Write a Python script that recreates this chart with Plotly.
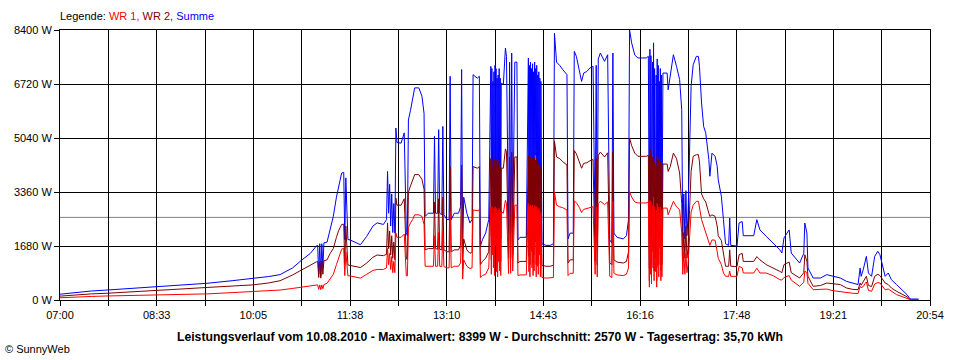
import plotly.graph_objects as go

# minutes after 07:00
minutes = [0, 15, 30, 45, 70, 90, 115, 141, 165, 185, 200, 211, 223, 232, 240, 246, 247, 248, 249, 250,
           251, 252, 253, 256, 259, 262, 265, 267, 270, 272, 273, 274, 276, 278, 283, 288, 294, 300, 304, 310,
           313, 314, 315, 316, 317, 318, 319, 320, 321, 322, 323, 327, 330, 332, 333, 334, 336, 338, 340, 344,
           347, 349, 350, 353, 358, 359, 360, 362, 363, 364, 366, 367, 368, 371, 373, 374, 375, 378, 382, 384,
           385, 386, 387, 390, 393, 395, 396, 400, 402, 403, 405, 408, 411,
           413, 413.5, 414, 414.5, 415, 415.5, 416, 416.5, 417, 417.5, 418, 418.5, 419, 419.5, 420, 420.5, 421,
           421.5, 422, 422.5, 423,
           425, 427, 428, 430, 431, 432, 433, 434, 436, 438, 439, 441, 447,
           449, 449.5, 450, 450.5, 451, 451.5, 452, 452.5, 453, 453.5, 454, 454.5, 455, 455.5, 456, 456.5, 457,
           457.5, 458, 458.5, 459, 459.5, 460, 460.5, 461, 461.5, 462,
           466, 470, 473, 474, 476, 479, 482, 486, 487,
           489, 492, 493, 495, 498, 500, 502, 505, 508, 511, 513, 514, 515, 516, 518, 522, 525, 527, 529, 530,
           531, 534, 540, 543, 545, 546, 548, 551, 554, 562, 564,
           565, 565.5, 566, 566.5, 567, 567.5, 568, 568.5, 569, 569.5, 570, 570.5, 571, 571.5, 572, 572.5, 573,
           573.5, 574, 574.5, 575, 575.5, 576, 576.5, 577,
           578, 582, 583, 585, 588, 591, 594, 596, 597, 598, 599, 600, 601, 602, 605, 607,
           610, 612, 613, 615, 617, 619, 622, 623, 625, 628, 630, 631, 634, 636, 638, 641, 642, 643, 646, 649,
           651, 654, 655, 665, 668, 671, 677, 684, 690, 692, 694, 697, 699, 701, 705, 709, 713, 714, 716, 717,
           722, 729, 735, 741, 748, 754, 760, 765, 767, 768, 770, 772, 773, 775, 778, 781, 784, 786, 789, 791,
           794, 797, 802, 807, 812, 815, 823]

summe = [180, 240, 280, 310, 360, 400, 460, 520, 600, 670, 730, 790, 1000, 1250, 1450, 1690, 1700, 800, 1750, 750,
         1750, 1000, 1780, 1800, 2190, 2600, 3200, 3540, 3950, 3970, 1880, 3800, 1880, 1870, 1800, 1720, 1980, 2300, 2400, 2350,
         2500, 4000, 2700, 3600, 2300, 3300, 2100, 3000, 2080, 5350, 4900, 4880, 5200, 2100, 2000, 5600, 5900, 6230, 6600, 6600,
         6340, 5800, 2600, 2700, 2700, 5100, 2700, 2700, 5300, 2700, 2650, 5400, 2650, 2500, 2500, 6960, 2500, 2700, 2700, 2900,
         7170, 1600, 3200, 2700, 2400, 2500, 7010, 6900, 6960, 1670, 1880, 2080, 2500,
         7270, 2000, 7200, 3500, 6800, 2500, 7100, 1900, 7300, 4200, 7200, 2200, 6900, 1800, 7000, 3000, 7200,
         2300, 6900, 1900, 6750,
         6700, 7840, 7580, 2080, 7400, 2100, 7680, 2290, 7400, 7400, 1870, 1950, 1950,
         7530, 2200, 7300, 1800, 7400, 3900, 7200, 2500, 7350, 1900, 7100, 2300, 7400, 4500, 7200, 1800, 7300,
         2600, 7000, 2000, 7100, 3500, 6900, 1800, 6800, 2200, 1750,
         1700, 1700, 1750, 8300, 7400, 7300, 7165, 7010, 1900,
         2080, 2080, 7736, 7580, 7165, 6800, 7060, 7110, 7218, 7270, 2000, 7300, 1800, 7500, 7684, 7425, 7630, 1870, 1770, 7684,
         2080, 1950, 1900, 2000, 2500, 8399, 8000, 7620, 7530, 7530, 7580,
         1000, 7800, 2000, 7600, 1200, 6000, 7400, 2500, 8000, 1500, 7200, 3800, 2200, 7000, 1000, 7500, 2600,
         7300, 1800, 6800, 4000, 7200, 1500, 7000, 1800,
         7060, 7060, 6540, 6960, 7630, 7270, 6855, 5920, 2000, 3300, 1900, 3400, 2000, 2600, 6650, 7320,
         7580, 7580, 7270, 6130, 5400, 5200, 4370, 3850, 4570, 4470, 4160, 3740, 3225, 2500, 1750, 1700, 2550, 1700, 1700, 1680,
         2400, 2440, 2000, 2000, 2500, 2180, 1980, 1773, 1566, 1460, 1930, 2084, 2180, 1460, 1300, 1150, 1450, 2395, 2080, 995,
         684, 684, 788, 736, 684, 580, 529, 480, 995, 736, 945, 1255, 1358, 840, 736, 1358, 1514, 1410, 1047, 736,
         840, 632, 477, 321, 166, 31, 30]

wr2 = [120, 160, 190, 210, 250, 290, 340, 390, 430, 470, 530, 600, 780, 950, 1080, 1190, 1200, 700, 1200, 680,
       1210, 800, 1220, 1250, 1450, 1600, 1950, 2150, 2350, 2360, 1100, 2300, 1090, 1080, 1050, 1010, 1150, 1330, 1400, 1380,
       1420, 2400, 1600, 2150, 1400, 2000, 1300, 1800, 1250, 3170, 2950, 2950, 3150, 1300, 1250, 3350, 3550, 3750, 3900, 3900,
       3750, 3450, 1560, 1600, 1600, 3050, 1600, 1580, 3150, 1580, 1560, 3200, 1560, 1500, 1500, 4150, 1500, 1560, 1560, 1700,
       4200, 1000, 1900, 1560, 1450, 1500, 4150, 4100, 4150, 1100, 1200, 1300, 1500,
       4400, 1250, 4350, 2100, 4100, 1500, 4300, 1200, 4400, 2500, 4350, 1350, 4150, 1150, 4250, 1800, 4350,
       1400, 4150, 1200, 4100,
       4100, 4700, 4600, 1300, 4450, 1300, 4600, 1400, 4450, 4450, 1150, 1200, 1200,
       4500, 1350, 4400, 1100, 4450, 2350, 4350, 1500, 4400, 1150, 4300, 1400, 4450, 2700, 4350, 1100, 4400,
       1550, 4200, 1200, 4250, 2100, 4150, 1100, 4100, 1350, 1080,
       1050, 1050, 1080, 4950, 4450, 4400, 4300, 4200, 1150,
       1250, 1250, 4650, 4550, 4300, 4100, 4250, 4270, 4330, 4370, 1200, 4400, 1100, 4500, 4600, 4450, 4580, 1150, 1100, 4600,
       1250, 1180, 1150, 1200, 1500, 5040, 4800, 4570, 4470, 4470, 4500,
       600, 4700, 1200, 4550, 700, 3600, 4450, 1500, 4800, 900, 4300, 2300, 1300, 4200, 600, 4500, 1550,
       4400, 1100, 4100, 2400, 4300, 900, 4200, 1100,
       4230, 4230, 4000, 4150, 4570, 4400, 3950, 3000, 1200, 2100, 1300, 2300, 1300, 1600, 4000, 4470,
       4520, 4520, 4300, 3300, 3150, 3050, 2700, 2600, 2650, 2600, 2300, 2000, 1850, 1460, 1050, 1050, 1560, 1050, 1050, 1040,
       1410, 1450, 1200, 1200, 1350, 1250, 1100, 1000, 890, 850, 1100, 1150, 1180, 850, 780, 684, 850, 1410, 1200, 740,
       425, 450, 529, 500, 480, 373, 330, 320, 529, 460, 560, 684, 736, 450, 420, 736, 800, 760, 600, 529,
       480, 373, 270, 190, 100, 10, 10]

wr1 = [70, 100, 110, 125, 140, 160, 175, 190, 230, 260, 290, 310, 360, 410, 440, 470, 470, 330, 470, 320,
       470, 350, 480, 520, 650, 800, 1100, 1300, 1580, 1610, 760, 1500, 750, 750, 720, 680, 800, 920, 950, 950,
       1000, 1600, 1100, 1450, 950, 1350, 850, 1200, 850, 2080, 1950, 1950, 2050, 750, 750, 2250, 2400, 2500, 2650, 2650,
       2600, 2350, 1050, 1050, 1050, 2000, 1050, 1050, 2100, 1050, 1040, 2150, 1040, 1000, 1000, 2750, 1000, 1050, 1050, 1150,
       2850, 650, 1250, 1050, 980, 1000, 2800, 2780, 2800, 700, 760, 800, 1000,
       2900, 800, 2900, 1400, 2700, 1000, 2850, 760, 2900, 1700, 2850, 880, 2750, 720, 2800, 1200, 2850,
       900, 2750, 760, 2750,
       2700, 3100, 3000, 820, 2950, 830, 3050, 900, 2950, 2950, 760, 780, 780,
       3000, 880, 2900, 720, 2950, 1550, 2900, 1000, 2950, 760, 2850, 900, 2950, 1800, 2900, 720, 2900,
       1050, 2800, 800, 2850, 1400, 2750, 720, 2700, 880, 700,
       680, 680, 700, 3350, 2950, 2900, 2870, 2800, 760,
       830, 830, 3080, 3030, 2870, 2720, 2820, 2840, 2880, 2900, 800, 2900, 720, 3000, 3070, 2970, 3050, 740, 700, 3070,
       830, 780, 760, 800, 1000, 3380, 3200, 3050, 3020, 3020, 3050,
       400, 3100, 800, 3050, 500, 2400, 2950, 1000, 3200, 600, 2900, 1500, 880, 2800, 400, 3000, 1050,
       2900, 720, 2700, 1600, 2900, 600, 2800, 720,
       2860, 2860, 2650, 2800, 3070, 2900, 2810, 2090, 800, 1500, 800, 1450, 850, 1100, 2740, 2950,
       3070, 3070, 2900, 2500, 2300, 2100, 1850, 1700, 1870, 1860, 1500, 1300, 1100, 840, 740, 736, 900, 736, 736, 736,
       1047, 1000, 840, 840, 990, 840, 840, 750, 632, 620, 700, 736, 760, 620, 520, 425, 550, 900, 850, 520,
       321, 330, 340, 290, 260, 218, 210, 200, 425, 380, 420, 520, 560, 300, 270, 500, 540, 530, 420, 320,
       340, 270, 166, 110, 60, 10, 10]

assert len(minutes) == len(summe) == len(wr1) == len(wr2), (len(minutes), len(summe), len(wr1), len(wr2))

average_w = 2570
x_span = 834  # 07:00 .. 20:54
y_ticks = [0, 1680, 3360, 5040, 6720, 8400]
y_labels = ["0 W", "1680 W", "3360 W", "5040 W", "6720 W", "8400 W"]
x_labels = ["07:00", "08:33", "10:05", "11:38", "13:10", "14:43", "16:16", "17:48", "19:21", "20:54"]

FONT = "Liberation Sans, Arial, sans-serif"

x_tickvals = [k * x_span / 18 for k in range(19)]
x_ticktext = []
for k in range(19):
    x_ticktext.append(x_labels[k // 2] if k % 2 == 0 else "")

fig = go.Figure()
fig.add_trace(go.Scatter(x=minutes, y=summe, mode="lines", line=dict(color="#0000FF", width=1), name="Summe"))
fig.add_trace(go.Scatter(x=minutes, y=wr2, mode="lines", line=dict(color="#800000", width=1), name="WR 2"))
fig.add_trace(go.Scatter(x=minutes, y=wr1, mode="lines", line=dict(color="#FF0000", width=1), name="WR 1"))

fig.add_shape(type="line", xref="paper", x0=0, x1=1, yref="y", y0=average_w, y1=average_w,
              line=dict(color="#808080", width=1), layer="below")

fig.update_layout(
    width=960, height=360,
    margin=dict(l=60, r=30, t=30, b=60, pad=0),
    paper_bgcolor="white", plot_bgcolor="white",
    showlegend=False,
    font=dict(family=FONT, size=11, color="black"),
    hovermode=False,
    xaxis=dict(range=[0, x_span], tickvals=x_tickvals, ticktext=x_ticktext,
               showgrid=True, gridcolor="black", gridwidth=1,
               ticks="outside", ticklen=5, tickcolor="black", tickwidth=1,
               showline=True, linecolor="black", linewidth=1, mirror=True,
               zeroline=False, tickfont=dict(family=FONT, size=11)),
    yaxis=dict(range=[0, 8400], tickvals=y_ticks, ticktext=y_labels,
               showgrid=True, gridcolor="black", gridwidth=1,
               ticks="outside", ticklen=5, tickcolor="black", tickwidth=1,
               showline=True, linecolor="black", linewidth=1, mirror=True,
               zeroline=False, tickfont=dict(family=FONT, size=11)),
)

fig.add_annotation(xref="paper", yref="paper", x=0, y=(300 - 16) / 270, xanchor="left", yanchor="middle",
                   showarrow=False, borderpad=0, borderwidth=0,
                   text="Legende: <span style='color:#FF0000'>WR 1,</span> <span style='color:#800000'>WR 2,</span> "
                        "<span style='color:#0000FF'>Summe</span>",
                   font=dict(family=FONT, size=11, color="black"))
fig.add_annotation(xref="paper", yref="paper", x=(480 - 60) / 870, y=(300 - 337) / 270, xanchor="center",
                   yanchor="middle", showarrow=False, borderpad=0, borderwidth=0,
                   text="<b>Leistungsverlauf vom 10.08.2010 - Maximalwert: 8399 W - Durchschnitt: 2570 W - "
                        "Tagesertrag: 35,70 kWh</b>",
                   font=dict(family=FONT, size=12.2, color="black"))
fig.add_annotation(xref="paper", yref="paper", x=(5 - 60) / 870, y=(300 - 349) / 270, xanchor="left",
                   yanchor="middle", showarrow=False, borderpad=0, borderwidth=0,
                   text="© SunnyWeb", font=dict(family=FONT, size=11, color="black"))

fig.write_html("out.html", config={"displayModeBar": False},
               post_script="document.body.style.margin='0';document.body.style.overflow='hidden';")
